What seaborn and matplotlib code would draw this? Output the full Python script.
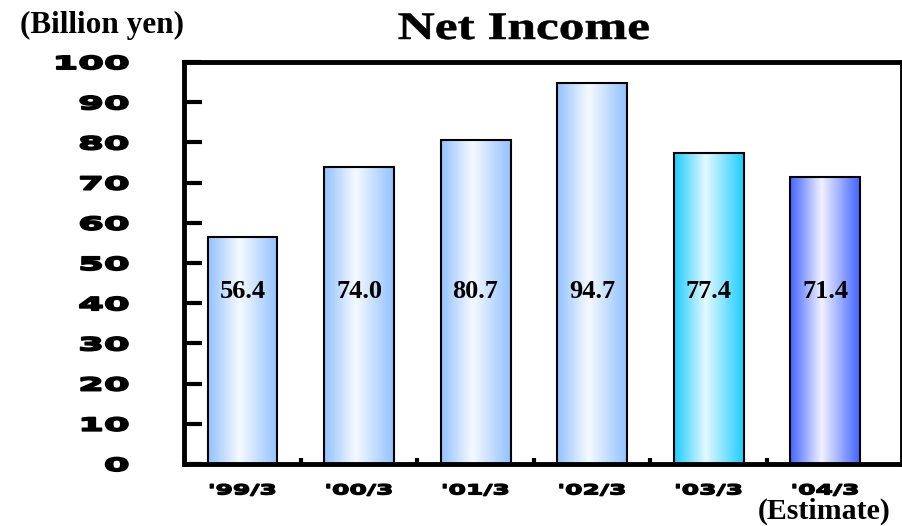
import numpy as np
import pandas as pd
import matplotlib
matplotlib.use('Agg')
import matplotlib.pyplot as plt
import seaborn as sns
from matplotlib.colors import LinearSegmentedColormap
from matplotlib.patheffects import AbstractPathEffect
from matplotlib.transforms import Affine2D

# 数据
periods = ["'99/3", "'00/3", "'01/3", "'02/3", "'03/3", "'04/3"]
net_income = [56.4, 74.0, 80.7, 94.7, 77.4, 71.4]
y_ticks = [0, 10, 20, 30, 40, 50, 60, 70, 80, 90, 100]

# 每根柱子的渐变色（边缘色, 中心色）
bar_edges = ['#94c2ff', '#94c2ff', '#94c2ff', '#94c2ff', '#22ccff', '#4466ff']
bar_centers = ['#f6faff', '#f6faff', '#f6faff', '#f6faff', '#e4f9ff', '#f2f2ff']


# 横向拉伸文字并加粗（原图字体较宽较粗）
class Stretch(AbstractPathEffect):
    def __init__(self, sx, anchor=0.5, stroke=0.0):
        super().__init__()
        self.sx = sx
        self.anchor = anchor
        self.stroke = stroke

    def draw_path(self, renderer, gc, tpath, affine, rgbFace=None):
        ext = tpath.get_extents()
        ax_ = ext.x0 + self.anchor * (ext.x1 - ext.x0)
        t = Affine2D().translate(-ax_, 0).scale(self.sx, 1).translate(ax_, 0) + affine
        if self.stroke > 0:
            gc0 = renderer.new_gc()
            gc0.copy_properties(gc)
            gc0.set_linewidth(self.stroke)
            gc0.set_foreground(rgbFace)
            renderer.draw_path(gc0, tpath, t, rgbFace)
            gc0.restore()
        else:
            renderer.draw_path(gc, tpath, t, rgbFace)


df = pd.DataFrame({'Period': periods, 'Net Income': net_income})

sns.set_style('white')
plt.rcParams['font.family'] = ['DejaVu Sans']
plt.rcParams['text.color'] = 'black'
plt.rcParams['xtick.color'] = 'black'
plt.rcParams['ytick.color'] = 'black'

fig = plt.figure(figsize=(9.03, 5.26), dpi=100)
ax = fig.add_axes([0.204, 0.118, 0.795, 0.764])

sns.barplot(data=df, x='Period', y='Net Income', color='white', width=0.6,
            edgecolor='black', linewidth=1.5, ax=ax)

# 用渐变填充柱子
for i, patch in enumerate(ax.patches):
    x0, y0 = patch.get_x(), patch.get_y()
    w, h = patch.get_width(), patch.get_height()
    cmap = LinearSegmentedColormap.from_list(
        'g%d' % i, [(0, bar_edges[i]), (0.45, bar_centers[i]), (1, bar_edges[i])])
    grad = np.linspace(0, 1, 64).reshape(1, -1)
    im = ax.imshow(grad, cmap=cmap, aspect='auto', extent=[x0, x0 + w, y0, y0 + h],
                   zorder=patch.get_zorder() + 0.1, interpolation='bicubic')
    im.set_clip_path(patch)
    patch.set_facecolor('none')
    patch.set_zorder(patch.get_zorder() + 0.2)

# 数值标签
for i, v in enumerate(net_income):
    ax.text(i, 43, '%.1f' % v, ha='center', va='center', fontsize=19,
            fontweight='bold', family='Liberation Serif', zorder=5)

ax.set_xlim(-0.5, 5.66)
ax.set_ylim(0, 100)
ax.set_yticks(y_ticks)
ax.set_yticklabels([str(t) for t in y_ticks], fontsize=13, fontweight='bold')
ax.set_xticks(range(len(periods)))
ax.set_xticklabels(periods, fontsize=10, fontweight='bold')
ax.set_xticks([0.5, 1.5, 2.5, 3.5, 4.5], minor=True)
ax.tick_params(axis='y', left=True, direction='in', length=13, width=3, pad=40)
ax.tick_params(axis='x', which='major', bottom=True, length=0, pad=14)
ax.tick_params(axis='x', which='minor', bottom=True, direction='in', length=4, width=3)
for lab in ax.get_yticklabels():
    lab.set_path_effects([Stretch(2.05, anchor=1.0, stroke=1.3)])
for lab in ax.get_xticklabels():
    lab.set_path_effects([Stretch(1.8, anchor=0.5, stroke=1.0)])
ax.set_xlabel('')
ax.set_ylabel('')
for s in ax.spines.values():
    s.set_visible(True)
    s.set_linewidth(3.5)
    s.set_color('black')

fig.text(0.022, 0.952, '(Billion yen)', fontsize=22.5, fontweight='bold',
         family='Liberation Serif', ha='left', va='center')
title = fig.text(0.58, 0.944, 'Net Income', fontsize=28, fontweight='bold',
                 family='Liberation Serif', ha='center', va='center')
title.set_path_effects([Stretch(1.32, anchor=0.5, stroke=0.4)])
fig.text(0.986, 0.028, '(Estimate)', fontsize=21.5, fontweight='bold',
         family='Liberation Serif', ha='right', va='center')

plt.savefig('out.png', dpi=100)
